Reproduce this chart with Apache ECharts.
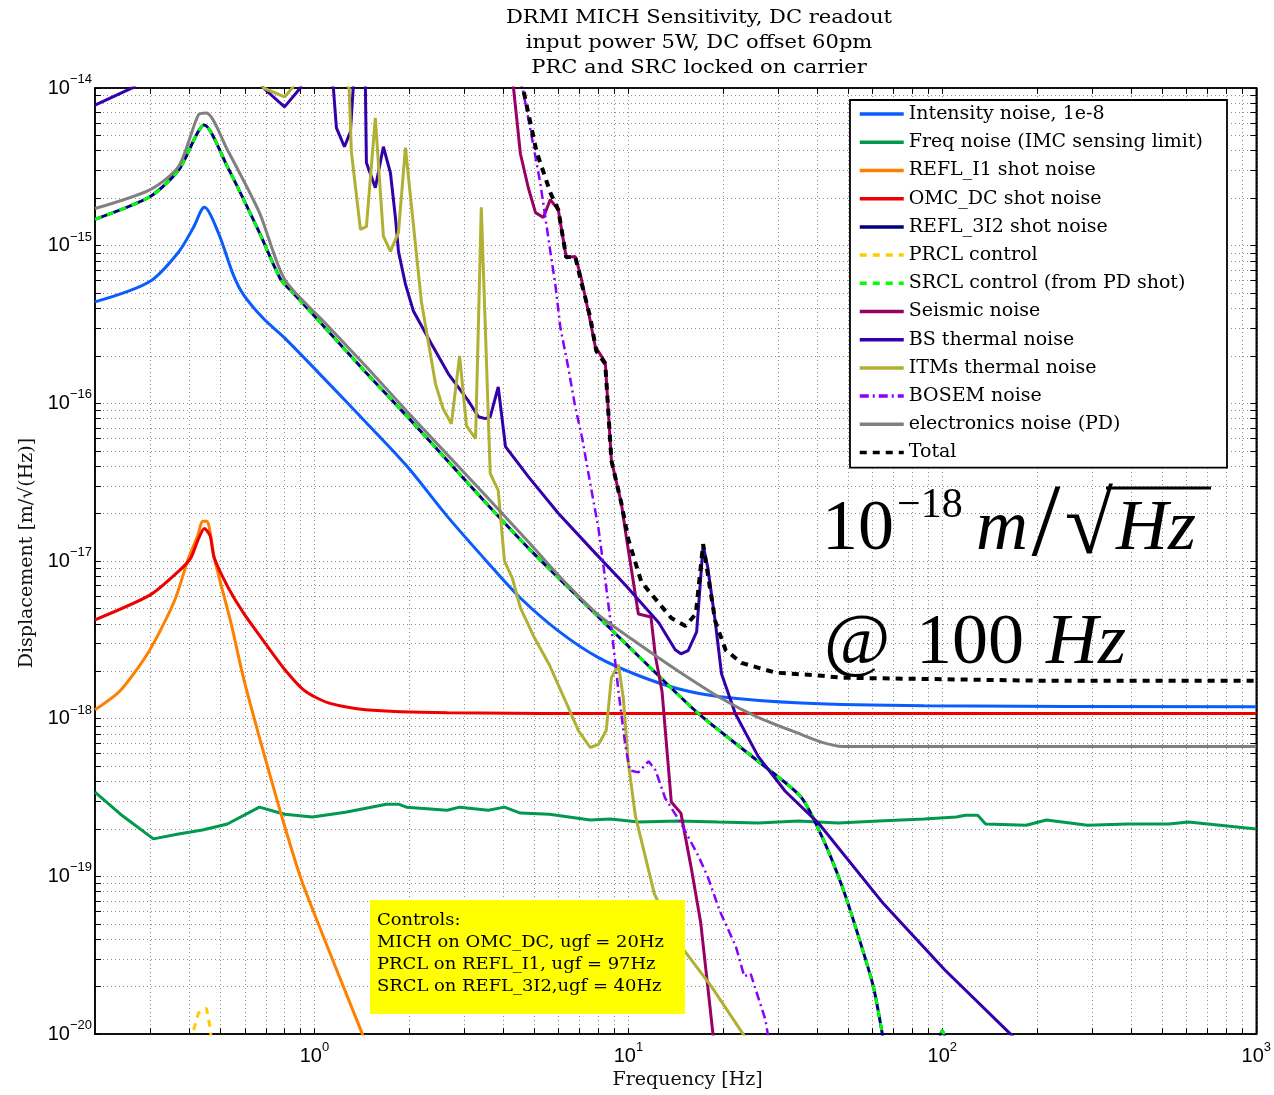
<!DOCTYPE html>
<html>
<head>
<meta charset="utf-8">
<script src="https://cdn.jsdelivr.net/npm/echarts/dist/echarts.min.js"></script>
<style>
html,body{margin:0;padding:0;background:#fff;}
#main{width:1274px;height:1095px;}
</style>
</head>
<body>
<div id="main"></div>
<script>
// ---------------- data (frequency [Hz], displacement [m/sqrt(Hz)]) ----------------
const F_INTENSITY = [0.2,0.298,0.369,0.412,0.446,0.494,0.552,0.594,0.688,0.803,1.076,1.453,1.963,2.65,3.58,4.53,5.98,8.03,10.76,14.4,19.6,35.5,87.6,1000];
const V_INTENSITY = [4.4e-16,5.9e-16,9.1e-16,1.31e-15,1.75e-15,1.21e-15,6.5e-16,4.9e-16,3.45e-16,2.6e-16,1.43e-16,7.65e-17,4.03e-17,1.92e-17,9.7e-18,5.83e-18,3.61e-18,2.44e-18,1.88e-18,1.55e-18,1.38e-18,1.26e-18,1.21e-18,1.19e-18];

const F_FREQ = [0.2,0.241,0.307,0.369,0.44,0.528,0.668,0.803,0.985,1.255,1.695,1.852,1.963,2.65,2.9,3.58,4.03,4.53,5.6,7.56,8.76,10.76,14.4,19.3,25.9,34.8,46.6,62.6,87.6,110.8,118.5,129.6,137.4,185,214.6,290,390,527,608,1000];
const V_FREQ = [3.42e-19,2.48e-19,1.73e-19,1.86e-19,1.97e-19,2.15e-19,2.75e-19,2.48e-19,2.38e-19,2.55e-19,2.87e-19,2.87e-19,2.75e-19,2.63e-19,2.75e-19,2.63e-19,2.75e-19,2.52e-19,2.48e-19,2.28e-19,2.31e-19,2.21e-19,2.25e-19,2.21e-19,2.18e-19,2.25e-19,2.18e-19,2.25e-19,2.31e-19,2.38e-19,2.44e-19,2.44e-19,2.15e-19,2.11e-19,2.28e-19,2.11e-19,2.15e-19,2.15e-19,2.21e-19,2.0e-19];

const F_REFL_I1 = [0.2,0.241,0.298,0.358,0.397,0.425,0.44,0.455,0.466,0.48,0.544,0.594,0.668,0.78,0.902,1.084,1.255,1.422,1.6];
const V_REFL_I1 = [1.14e-18,1.51e-18,2.7e-18,5.58e-18,1.04e-17,1.45e-17,1.79e-17,1.79e-17,1.5e-17,1.04e-17,3.94e-18,1.82e-18,7.6e-19,2.55e-19,9.93e-20,3.85e-20,1.86e-20,1.0e-20,5.6e-21];

const F_OMC_DC = [0.2,0.3,0.369,0.403,0.425,0.446,0.465,0.48,0.532,0.594,0.688,0.797,0.929,1.108,1.453,2.65,10.76,1000];
const V_OMC_DC = [4.24e-18,6.1e-18,8.6e-18,1.04e-17,1.35e-17,1.61e-17,1.45e-17,1.04e-17,6.75e-18,4.69e-18,3.12e-18,2.1e-18,1.51e-18,1.26e-18,1.14e-18,1.09e-18,1.08e-18,1.08e-18];

// REFL_3I2 shot noise and SRCL control share the same curve
const F_SRCL = [0.2,0.3,0.37,0.446,0.528,0.668,0.78,0.851,1.076,1.453,1.963,2.65,3.58,4.84,7.56,10.76,16.7,25.9,35.5,41.4,48,54.1,60.3,64.4,67,90,96,100,104,110];
const V_SRCL = [1.47e-15,2.05e-15,3.03e-15,5.83e-15,3.17e-15,1.21e-15,6.12e-16,5.07e-16,3.05e-16,1.58e-16,8.36e-17,4.34e-17,2.25e-17,1.19e-17,4.97e-18,2.5e-18,1.08e-18,5.37e-19,3.18e-19,1.78e-19,8.6e-20,4.15e-20,2.0e-20,1.0e-20,6e-21,3e-21,8e-21,1.05e-20,8e-21,3e-21];

const F_PRCL = [0.39,0.409,0.427,0.453,0.466,0.48];
const V_PRCL = [5e-21,1.0e-20,1.36e-20,1.46e-20,1.08e-20,5e-21];

const F_SEISMIC = [4.0,4.3,4.53,4.8,5.06,5.36,5.64,5.98,6.34,6.77,7.03,7.45,7.85,8.44,8.83,9.5,9.85,10.76,11.8,12.2,12.8,13.7,14.7,15.9,17.0,18.6,19.5];
const V_SEISMIC = [3e-14,1.03e-14,3.83e-15,2.33e-15,1.62e-15,1.51e-15,1.96e-15,1.69e-15,8.43e-16,8.55e-16,6.59e-16,3.85e-16,2.28e-16,1.83e-16,4.34e-17,2.32e-17,1.42e-17,4.62e-18,4.42e-18,2.47e-18,1.49e-18,2.96e-19,2.52e-19,1.1e-19,5.08e-20,1.0e-20,5e-21];

const F_BS = [0.2,0.265,0.3,0.45,0.62,0.688,0.803,0.902,1.0,1.149,1.175,1.246,1.302,1.331,1.4,1.453,1.464,1.563,1.658,1.746,1.811,1.852,1.949,2.066,2.36,2.67,3.09,3.33,3.5,3.63,3.85,4.06,4.8,5.98,7.63,9.78,12.5,14.1,14.7,15.5,16.5,17.3,17.9,18.9,19.8,21.9,25.9,31.6,40.3,65,101.7,165,200];
const V_BS = [7.8e-15,1.01e-14,1.4e-14,3e-14,1.5e-14,1.0e-14,7.59e-15,1.0e-14,2e-14,1.0e-14,5.58e-15,4.24e-15,5.27e-15,1.05e-14,2e-14,1.05e-14,3.36e-15,2.33e-15,4.24e-15,2.9e-15,1.51e-15,9.2e-16,5.7e-16,3.85e-16,2.38e-16,1.54e-16,1.04e-16,8.22e-17,8.0e-17,8.22e-17,1.27e-16,5.32e-17,3.43e-17,2.01e-17,1.19e-17,7.05e-18,4.06e-18,2.74e-18,2.58e-18,2.7e-18,3.56e-18,1.26e-17,9.14e-18,4.17e-18,1.93e-18,1.08e-18,5.77e-19,3.47e-19,2.18e-19,6.7e-20,2.56e-20,1.0e-20,6.8e-21];

const F_ITM = [0.6,0.688,0.803,0.85,1.0,1.29,1.311,1.401,1.464,1.563,1.658,1.746,1.852,1.949,2.19,2.43,2.57,2.73,2.9,3.05,3.26,3.4,3.63,3.85,4.03,4.27,4.53,5.02,5.6,6.3,6.93,7.56,8.03,8.5,8.83,9.3,9.64,10.0,10.53,12.1,14.5,18.4,23.2,30];
const V_ITM = [1.6e-14,1.0e-14,8.77e-15,1.0e-14,2e-14,1.0e-14,3.94e-15,1.27e-15,1.32e-15,6.46e-15,1.15e-15,9.2e-16,1.21e-15,4.18e-15,4.45e-16,1.33e-16,9.25e-17,7.43e-17,2.0e-16,7.21e-17,5.97e-17,1.75e-15,3.59e-17,2.81e-17,1.0e-17,7.8e-18,5.05e-18,3.26e-18,2.2e-18,1.3e-18,8.41e-19,6.57e-19,6.87e-19,8.41e-19,1.82e-18,2.2e-18,1.34e-18,5.21e-19,2.41e-19,7.74e-20,3.75e-20,2.0e-20,1.0e-20,5e-21];

const F_BOSEM = [4.3,4.6,4.91,5.25,5.44,5.64,5.85,6.07,6.43,6.77,7.13,7.56,8.03,8.27,8.83,9.3,9.78,10.1,10.76,11.6,12.2,13.1,14.7,16.7,17.9,19.6,22.0,23.4,24.5,27.3,27.8,29];
const V_BOSEM = [2e-14,1.0e-14,5.05e-15,2.44e-15,1.51e-15,9.2e-16,5.7e-16,3.05e-16,1.7e-16,9.53e-17,5.97e-17,3.1e-17,1.61e-17,1.04e-17,3.77e-18,1.49e-18,6.78e-19,4.71e-19,4.57e-19,5.37e-19,4.71e-19,3.13e-19,2.18e-19,1.35e-19,9.93e-20,5.97e-20,3.59e-20,2.32e-20,2.42e-20,1.24e-20,1.0e-20,5e-21];

const F_ELEC = [0.2,0.3,0.369,0.427,0.453,0.528,0.668,0.803,1.076,1.453,1.963,2.65,3.58,4.84,6.1,8.03,10.76,14.4,19.6,25.9,35.5,41.4,48,1000];
const V_ELEC = [1.72e-15,2.27e-15,3.17e-15,6.75e-15,6.95e-15,4.06e-15,1.62e-15,6.12e-16,3.27e-16,1.73e-16,8.97e-17,4.73e-17,2.49e-17,1.3e-17,7.8e-18,4.55e-18,2.99e-18,2.01e-18,1.36e-18,1.02e-18,7.95e-19,7.08e-19,6.67e-19,6.67e-19];

const F_TOTAL = [4.4,4.6,5.1,5.44,5.64,5.98,6.34,6.77,7.07,7.56,7.9,8.44,8.83,9.5,10.0,11.0,12.5,13.7,15.2,16.4,17.3,18.9,20.4,22.9,29.4,40.3,48,214,1000];
const V_TOTAL = [2e-14,1.03e-14,3.94e-15,2.7e-15,2.17e-15,1.69e-15,8.43e-16,8.55e-16,5.94e-16,3.52e-16,2.15e-16,1.78e-16,4.34e-17,2.32e-17,1.37e-17,7.36e-18,5.42e-18,4.35e-18,3.88e-18,4.62e-18,1.28e-17,4.17e-18,2.73e-18,2.26e-18,1.96e-18,1.88e-18,1.82e-18,1.74e-18,1.74e-18];

// axis ticks / labels
const X_LABEL_VALUES = [1, 10, 100, 1000];
const Y_LABEL_VALUES = [1e-20, 1e-19, 1e-18, 1e-17, 1e-16, 1e-15, 1e-14];
const TICK_MANTISSAS = [1, 2, 3, 4, 5, 6, 7, 8, 9];
const X_DECADES = [-1, 0, 1, 2];
const Y_DECADES = [-20, -19, -18, -17, -16, -15];

const TITLE_LINES = ['DRMI MICH Sensitivity, DC readout', 'input power 5W, DC offset 60pm', 'PRC and SRC locked on carrier'];
const CONTROL_LINES = ['Controls:', 'MICH on OMC_DC, ugf = 20Hz', 'PRCL on REFL_I1, ugf = 97Hz', 'SRCL on REFL_3I2,ugf = 40Hz'];

// ---------------- build ----------------
const xTicks = [];
X_DECADES.forEach(e => TICK_MANTISSAS.forEach(m => { const v = Number(m + 'e' + e); if (v > 0.2 && v < 1000) xTicks.push(v); }));
xTicks.push(1000);
const yTicks = [];
Y_DECADES.forEach(e => TICK_MANTISSAS.forEach(m => yTicks.push(Number(m + 'e' + e))));
yTicks.push(1e-14);

function pairs(f, v) { return f.map((x, i) => [x, v[i]]); }
function line(name, f, v, color, width, type, smooth) {
  return {
    name, type: 'line', data: pairs(f, v), symbol: 'none', showSymbol: false,
    smooth: smooth || false, clip: true, animation: false,
    lineStyle: { color, width, type: type || 'solid', cap: 'butt' },
    itemStyle: { color }, emphasis: { disabled: true }
  };
}

const SERIF = '"DejaVu Serif", "Liberation Serif", serif';
const SANS = '"Liberation Sans", Arial, sans-serif';

function expLabel(v) {
  const e = Math.round(Math.log10(v));
  return '{b|10}{s|' + (e < 0 ? '\u2212' : '') + Math.abs(e) + '}';
}
const labelRich = {
  b: { fontSize: 20, fontFamily: SANS, color: '#000', lineHeight: 30 },
  s: { fontSize: 13, fontFamily: SANS, color: '#000', lineHeight: 13, verticalAlign: 'top' }
};

const series = [
  line('Intensity noise, 1e-8', F_INTENSITY, V_INTENSITY, '#0a5cff', 3, 'solid', 0.3),
  line('Freq noise (IMC sensing limit)', F_FREQ, V_FREQ, '#00994d', 3),
  line('REFL_I1 shot noise', F_REFL_I1, V_REFL_I1, '#ff8000', 3, 'solid', 0.25),
  line('OMC_DC shot noise', F_OMC_DC, V_OMC_DC, '#ee0000', 3, 'solid', 0.25),
  line('REFL_3I2 shot noise', F_SRCL, V_SRCL, '#00007f', 3, 'solid', 0.25),
  line('PRCL control', F_PRCL, V_PRCL, '#ffcc00', 3, [7, 6]),
  line('SRCL control (from PD shot)', F_SRCL, V_SRCL, '#00ff00', 3, [7, 6], 0.25),
  line('Seismic noise', F_SEISMIC, V_SEISMIC, '#990066', 3),
  line('BS thermal noise', F_BS, V_BS, '#3300aa', 3),
  line('ITMs thermal noise', F_ITM, V_ITM, '#b0b034', 3),
  line('BOSEM noise', F_BOSEM, V_BOSEM, '#8800ff', 2.5, [9, 4, 2, 4]),
  line('electronics noise (PD)', F_ELEC, V_ELEC, '#808080', 3, 'solid', 0.25),
  line('Total', F_TOTAL, V_TOTAL, '#000000', 4, [7, 6])
];

function axisCommon(extra) {
  return Object.assign({
    type: 'log', logBase: 10,
    axisLine: { show: true, onZero: false, lineStyle: { color: '#000', width: 1.5 } },
    minorTick: { show: false }, minorSplitLine: { show: false },
    axisPointer: { show: false }
  }, extra);
}

function txt(x, y, text, font, align, sx) {
  return {
    type: 'text', x, y, z: 100, scaleX: sx || 1,
    style: { text, font, fill: '#000', align, verticalAlign: 'middle', textAlign: align, textVerticalAlign: 'middle' }
  };
}

const option = {
  animation: false,
  backgroundColor: '#fff',
  grid: { left: 95, right: 16, top: 88, bottom: 56, show: true, borderColor: '#000', borderWidth: 1.5, backgroundColor: 'rgba(0,0,0,0)' },
  xAxis: [
    axisCommon({
      min: 0.2, max: 1000, position: 'bottom',
      axisTick: { show: true, inside: true, length: 6, customValues: xTicks, lineStyle: { color: '#000', width: 1 } },
      axisLabel: { show: true, customValues: X_LABEL_VALUES, formatter: expLabel, rich: labelRich, margin: 7, hideOverlap: false, showMinLabel: true, showMaxLabel: true },
      splitLine: { show: true, lineStyle: { color: '#8c8c8c', width: 1, type: [1, 3] } },
      name: 'Frequency [Hz]', nameLocation: 'middle', nameGap: 33,
      nameTextStyle: { fontFamily: SERIF, fontSize: 19, color: '#111', padding: [0, 0, 0, 24] }
    }),
    axisCommon({
      min: 0.2, max: 1000, position: 'top',
      axisTick: { show: true, inside: true, length: 6, customValues: xTicks, lineStyle: { color: '#000', width: 1 } },
      axisLabel: { show: false }, splitLine: { show: false }
    })
  ],
  yAxis: [
    axisCommon({
      min: 1e-20, max: 1e-14, position: 'left',
      axisTick: { show: true, inside: true, length: 6, customValues: yTicks, lineStyle: { color: '#000', width: 1 } },
      axisLabel: { show: true, customValues: Y_LABEL_VALUES, formatter: expLabel, rich: labelRich, margin: 3, hideOverlap: false, showMinLabel: true, showMaxLabel: true },
      splitLine: { show: true, lineStyle: { color: '#8c8c8c', width: 1, type: [1, 3] } },
      name: 'Displacement [m/\u221A(Hz)]', nameLocation: 'middle', nameGap: 58, nameRotate: 90,
      nameTextStyle: { fontFamily: SERIF, fontSize: 19, color: '#111', padding: [0, 0, 0, 16] }
    }),
    axisCommon({
      min: 1e-20, max: 1e-14, position: 'right',
      axisTick: { show: true, inside: true, length: 6, customValues: yTicks, lineStyle: { color: '#000', width: 1 } },
      axisLabel: { show: false }, splitLine: { show: false }
    })
  ],
  legend: {
    show: true, orient: 'vertical', left: 850, top: 100,
    itemWidth: 44, itemHeight: 14, itemGap: 0,
    padding: [0, 24, 1, 8],
    backgroundColor: '#fff', borderColor: '#000', borderWidth: 1.8,
    selectedMode: false,
    itemStyle: { opacity: 0 },
    lineStyle: { width: 3.5 },
    textStyle: { fontFamily: SERIF, fontSize: 19, color: '#000', lineHeight: 28.2 },
    data: series.map(s => s.name)
  },
  series: series,
  graphic: [
    ...TITLE_LINES.map((t, i) => txt(699, 18 + i * 25, t, '18px ' + SERIF, 'center', 1.17)),
    { type: 'rect', z: 90, shape: { x: 370, y: 900, width: 315, height: 114 }, style: { fill: '#ffff00' } },
    ...CONTROL_LINES.map((t, i) => txt(377, 921 + i * 22, t, '16px ' + SERIF, 'left', 1.12)),
    txt(822, 530, '10', '72px "Liberation Serif"', 'left'),
    txt(897, 506, '\u221218', '42px "Liberation Serif"', 'left'),
    txt(976, 530, 'm', 'italic 72px "Liberation Serif"', 'left'),
    txt(1046, 528, '/', '104px "Liberation Serif"', 'center'),
    txt(1089, 530, '\u221A', '88px "Liberation Serif"', 'center'),
    { type: 'line', z: 100, shape: { x1: 1106, y1: 488, x2: 1211, y2: 488 }, style: { stroke: '#000', lineWidth: 3 } },
    txt(1116, 530, 'Hz', 'italic 72px "Liberation Serif"', 'left'),
    txt(824, 644, '@', '72px "Liberation Serif"', 'left'),
    txt(916, 644, '100', '72px "Liberation Serif"', 'left'),
    txt(1046, 644, 'Hz', 'italic 72px "Liberation Serif"', 'left')
  ]
};

const chart = echarts.init(document.getElementById('main'), null, { renderer: 'canvas', width: 1274, height: 1095 });
chart.setOption(option);
</script>
</body>
</html>
